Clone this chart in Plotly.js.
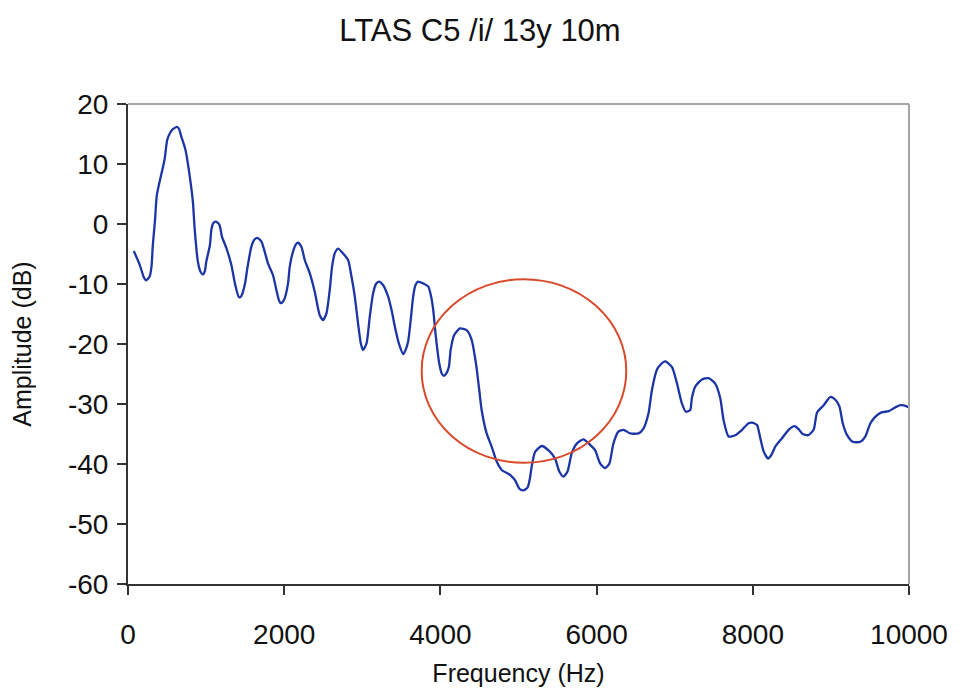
<!DOCTYPE html>
<html>
<head>
<meta charset="utf-8">
<script src="https://cdn.plot.ly/plotly-3.0.1.min.js"></script>
<style>html,body{margin:0;padding:0;background:#fff;}#chart{width:960px;height:692px;}</style>
</head>
<body>
<div id="chart"></div>
<script>
const chartTitle = "LTAS C5 /i/ 13y 10m";
const xAxisTitle = "Frequency (Hz)";
const yAxisTitle = "Amplitude (dB)";
const xTickValues = [0, 2000, 4000, 6000, 8000, 10000];
const yTickValues = [20, 10, 0, -10, -20, -30, -40, -50, -60];

const frequencyHz = [
  74, 150, 200, 230, 276, 300, 318, 345, 369, 400, 425, 468, 502, 540, 575, 631, 655, 682, 737, 788,
  831, 853, 895, 930, 959, 985, 1002, 1049, 1067, 1090, 1117, 1150, 1173, 1203, 1259, 1323, 1374, 1421, 1445, 1472,
  1500, 1528, 1579, 1620, 1656, 1686, 1708, 1750, 1793, 1856, 1900, 1930, 1955, 1980, 2006, 2049, 2071, 2113, 2150, 2177,
  2220, 2263, 2327, 2391, 2455, 2498, 2541, 2583, 2613, 2647, 2690, 2754, 2818, 2862, 2904, 2946, 2981, 3010, 3054, 3096,
  3138, 3175, 3212, 3267, 3331, 3374, 3417, 3468, 3525, 3560, 3588, 3620, 3651, 3680, 3715, 3779, 3844, 3880, 3908, 3942,
  3985, 4020, 4045, 4080, 4109, 4131, 4177, 4250, 4336, 4400, 4455, 4498, 4528, 4592, 4656, 4721, 4785, 4891, 4955, 5010,
  5062, 5117, 5145, 5169, 5212, 5297, 5382, 5468, 5524, 5574, 5626, 5682, 5746, 5831, 5917, 5981, 6045, 6109, 6164, 6215,
  6279, 6344, 6429, 6536, 6600, 6664, 6708, 6772, 6814, 6878, 6964, 7028, 7092, 7144, 7199, 7220, 7263, 7349, 7433, 7519,
  7583, 7626, 7690, 7776, 7862, 7946, 7990, 8054, 8096, 8139, 8195, 8237, 8288, 8374, 8459, 8536, 8587, 8638, 8708, 8779,
  8823, 8908, 8994, 9058, 9109, 9152, 9208, 9279, 9378, 9442, 9506, 9571, 9647, 9741, 9805, 9891, 9955, 10000
];
const amplitudeDb = [
  -4.5, -6.8, -8.8, -9.4, -8.8, -7.2, -3.5, 0.5, 4.8, 6.8, 8.2, 10.7, 14.0, 15.2, 15.8, 16.2, 15.8, 14.6, 12.3, 8.2,
  3.7, -0.7, -6.3, -8.0, -8.4, -7.8, -6.3, -3.5, -1.0, 0.1, 0.4, 0.2, -0.2, -2.1, -4.0, -6.8, -10.2, -12.2, -12.1, -11.3,
  -9.8, -7.4, -3.8, -2.6, -2.3, -2.6, -2.9, -4.6, -6.6, -8.5, -11.0, -12.6, -13.2, -13.0, -12.4, -9.9, -7.1, -4.6, -3.4, -3.1,
  -3.8, -6.0, -8.2, -11.3, -15.2, -16.0, -14.9, -11.0, -7.1, -4.9, -4.1, -4.9, -6.0, -8.8, -12.1, -16.6, -19.9, -21.0, -19.9, -15.4,
  -11.6, -10.0, -9.6, -10.2, -12.1, -14.3, -17.1, -19.9, -21.7, -20.8, -19.5, -16.0, -12.1, -10.2, -9.6, -9.9, -10.4, -12.0, -14.3, -18.8,
  -23.2, -25.0, -25.3, -24.8, -23.8, -21.0, -18.5, -17.4, -17.7, -19.3, -23.2, -27.7, -31.0, -34.9, -37.1, -39.6, -41.0, -41.8, -42.7, -44.1,
  -44.4, -43.9, -42.5, -40.4, -38.0, -37.0, -37.7, -39.1, -41.3, -42.1, -41.3, -38.2, -36.6, -35.9, -36.8, -37.7, -39.9, -40.7, -39.9, -36.6,
  -34.6, -34.3, -34.9, -34.9, -34.1, -31.6, -27.7, -24.3, -23.5, -22.9, -23.8, -26.5, -29.9, -31.3, -31.0, -29.0, -27.1, -25.9, -25.7, -26.6,
  -29.0, -32.7, -35.4, -35.2, -34.3, -33.2, -33.1, -33.5, -35.7, -37.9, -39.1, -38.5, -37.1, -35.7, -34.3, -33.7, -34.2, -35.0, -35.2, -34.3,
  -31.4, -30.2, -28.8, -29.3, -30.4, -33.2, -35.2, -36.3, -36.3, -35.4, -33.2, -32.1, -31.4, -31.2, -30.7, -30.2, -30.3, -30.6
];

// highlighted region (ellipse bounds in data units)
const highlightFreq = [3760, 6380];
const highlightDb = [-39.8, -9.2];

const fontFamily = "Liberation Sans, Arial, sans-serif";

const trace = {
  x: frequencyHz,
  y: amplitudeDb,
  type: "scatter",
  mode: "lines",
  line: { color: "#1b35a6", width: 2.3, shape: "spline", smoothing: 0.6 },
  hoverinfo: "x+y"
};

const layout = {
  width: 960,
  height: 692,
  paper_bgcolor: "#ffffff",
  plot_bgcolor: "#ffffff",
  showlegend: false,
  margin: { l: 128, r: 51, t: 104, b: 108, pad: 0 },
  font: { family: fontFamily, color: "#111111" },
  title: {
    text: chartTitle,
    font: { size: 31, family: fontFamily, color: "#111111" },
    x: 0.5, xref: "container", xanchor: "center",
    y: 1 - 30 / 692, yref: "container", yanchor: "middle"
  },
  xaxis: {
    range: [0, 10000],
    tickvals: xTickValues,
    ticktext: xTickValues.map(String),
    showgrid: false,
    zeroline: false,
    showline: true,
    linecolor: "#333333",
    linewidth: 2,
    ticks: "outside",
    ticklen: 9,
    tickwidth: 2,
    tickcolor: "#333333",
    ticklabelstandoff: 15,
    tickfont: { size: 28, family: fontFamily, color: "#111111" },
    title: { text: xAxisTitle, font: { size: 25, family: fontFamily, color: "#111111" }, standoff: 16 },
    automargin: false,
    fixedrange: true
  },
  yaxis: {
    range: [-60, 20],
    tickvals: yTickValues,
    ticktext: yTickValues.map(String),
    showgrid: false,
    zeroline: false,
    showline: true,
    linecolor: "#333333",
    linewidth: 2,
    ticks: "outside",
    ticklen: 9,
    tickwidth: 2,
    tickcolor: "#333333",
    ticklabelstandoff: 3,
    tickfont: { size: 28, family: fontFamily, color: "#111111" },
    title: { text: yAxisTitle, font: { size: 25, family: fontFamily, color: "#111111" }, standoff: 29 },
    automargin: false,
    fixedrange: true
  },
  shapes: [
    { type: "line", xref: "paper", yref: "paper", x0: 0, x1: 1, y0: 1, y1: 1, line: { color: "#a6a6a6", width: 2 } },
    { type: "line", xref: "paper", yref: "paper", x0: 1, x1: 1, y0: 0, y1: 1, line: { color: "#a6a6a6", width: 2 } },
    { type: "circle", xref: "x", yref: "y", x0: highlightFreq[0], x1: highlightFreq[1], y0: highlightDb[0], y1: highlightDb[1],
      line: { color: "#d94a2c", width: 2 }, fillcolor: "rgba(0,0,0,0)" }
  ]
};

Plotly.newPlot("chart", [trace], layout, { displayModeBar: false, staticPlot: true });
</script>
</body>
</html>
